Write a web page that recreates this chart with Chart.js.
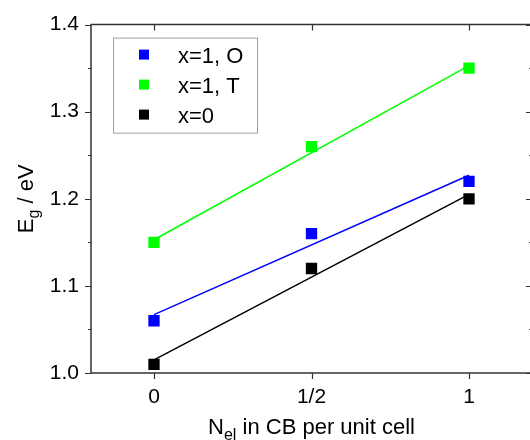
<!DOCTYPE html>
<html>
<head>
<meta charset="utf-8">
<script src="https://cdn.jsdelivr.net/npm/chart.js@4.4.0/dist/chart.umd.min.js"></script>
<style>
  html, body { margin: 0; padding: 0; background: #fff; overflow: hidden; }
  #wrap { position: absolute; left: 0; top: 0; width: 560px; height: 440px; }
</style>
</head>
<body>
<div id="wrap"><canvas id="gapChart" width="560" height="440"></canvas></div>
<script>
// electrons in conduction band per unit cell
const nEl = [0, 0.5, 1];
const xTickValues = [0, 0.5, 1];
const xTickLabels = ["0", "1/2", "1"];

// band gap values (eV)
const gapO = [1.06, 1.16, 1.22];
const gapT = [1.15, 1.26, 1.35];
const gapX0 = [1.01, 1.12, 1.20];

// linear fit end points at N = 0 and N = 1
const fitX = [0, 1];
const fitO = [1.067, 1.227];
const fitT = [1.153, 1.353];
const fitX0 = [1.015, 1.205];

const seriesLabels = ["x=1, O", "x=1, T", "x=0"];
const seriesColors = ["#0000ff", "#00ff00", "#000000"];

const FONT = "'Liberation Sans', Arial, sans-serif";

const toPoints = (xs, ys) => xs.map((x, i) => ({ x: x, y: ys[i] }));

const markerSet = (label, values, color) => ({
  label: label,
  data: toPoints(nEl, values),
  showLine: false,
  pointStyle: "rect",
  pointRadius: 8,
  pointBackgroundColor: color,
  pointBorderColor: color,
  pointBorderWidth: 0,
  isMarker: true
});

const fitSet = (values, color) => ({
  label: "",
  data: toPoints(fitX, values),
  showLine: true,
  borderColor: color,
  borderWidth: 1.5,
  pointRadius: 0,
  fill: false,
  tension: 0
});

// frame with ticks on all four sides (outward left/bottom, inward top/right)
const framePlugin = {
  id: "frame",
  afterDatasetsDraw(chart) {
    const { ctx, chartArea: a, scales } = chart;
    const xs = scales.x, ys = scales.y;
    ctx.save();
    ctx.strokeStyle = "#333";
    ctx.lineWidth = 1.5;
    ctx.beginPath();
    ctx.rect(a.left, a.top, a.right - a.left, a.bottom - a.top);
    ctx.stroke();

    ctx.lineWidth = 1.2;
    ctx.beginPath();
    xTickValues.forEach(v => {
      const px = Math.round(xs.getPixelForValue(v)) + 0.5;
      ctx.moveTo(px, a.bottom); ctx.lineTo(px, a.bottom + 6);
      ctx.moveTo(px, a.top); ctx.lineTo(px, a.top + 6);
    });
    for (let i = 0; i <= 8; i++) {
      const v = 1.0 + i * 0.05;
      const py = Math.round(ys.getPixelForValue(v)) + 0.5;
      const len = i % 2 === 0 ? 6 : 3;
      ctx.moveTo(a.left - len, py); ctx.lineTo(a.left, py);
      ctx.moveTo(a.right - len, py); ctx.lineTo(a.right, py);
    }
    ctx.stroke();
    ctx.restore();
  },
  afterDraw(chart) {
    const { ctx, chartArea: a } = chart;
    ctx.save();

    // legend box
    const lx = a.left + 22, ly = a.top + 13;
    ctx.strokeStyle = "#a0a0a0";
    ctx.lineWidth = 1;
    ctx.strokeRect(lx + 0.5, ly + 0.5, 144, 95);
    ctx.font = "22px " + FONT;
    ctx.textBaseline = "middle";
    ctx.textAlign = "left";
    seriesLabels.forEach((lab, i) => {
      const cy = ly + 17 + i * 30;
      ctx.fillStyle = seriesColors[i];
      ctx.fillRect(lx + 26, cy - 5, 10, 10);
      ctx.fillStyle = "#000";
      ctx.fillText(lab, lx + 65, cy + 2);
    });

    // x axis title with subscript
    const big = "22px " + FONT, small = "16px " + FONT;
    const parts = [["N", big, 0], ["el", small, 6], [" in CB per unit cell", big, 0]];
    let w = 0;
    parts.forEach(p => { ctx.font = p[1]; w += ctx.measureText(p[0]).width; });
    let x = (a.left + a.right) / 2 - w / 2;
    const base = 434;
    ctx.fillStyle = "#000";
    ctx.textBaseline = "alphabetic";
    parts.forEach(p => {
      ctx.font = p[1];
      ctx.fillText(p[0], x, base + p[2]);
      x += ctx.measureText(p[0]).width;
    });

    // y axis title, rotated
    const yParts = [["E", big, 0], ["g", small, 6], [" / eV", big, 0]];
    w = 0;
    yParts.forEach(p => { ctx.font = p[1]; w += ctx.measureText(p[0]).width; });
    ctx.translate(33, (a.top + a.bottom) / 2);
    ctx.rotate(-Math.PI / 2);
    x = -w / 2;
    yParts.forEach(p => {
      ctx.font = p[1];
      ctx.fillText(p[0], x, p[2]);
      x += ctx.measureText(p[0]).width;
    });
    ctx.restore();
  }
};

const gapChart = new Chart(document.getElementById("gapChart"), {
  type: "scatter",
  data: {
    datasets: [
      markerSet(seriesLabels[0], gapO, seriesColors[0]),
      markerSet(seriesLabels[1], gapT, seriesColors[1]),
      markerSet(seriesLabels[2], gapX0, seriesColors[2]),
      fitSet(fitO, seriesColors[0]),
      fitSet(fitT, seriesColors[1]),
      fitSet(fitX0, seriesColors[2])
    ]
  },
  options: {
    responsive: false,
    devicePixelRatio: 1,
    animation: false,
    layout: { padding: { left: 0, top: 20, right: 28, bottom: 0 } },
    plugins: { legend: { display: false }, tooltip: { enabled: false } },
    scales: {
      x: {
        type: "linear",
        min: -0.2,
        max: 1.2,
        afterBuildTicks: scale => { scale.ticks = xTickValues.map(v => ({ value: v })); },
        afterFit: scale => { scale.height = 67; },
        grid: { display: false, drawTicks: false },
        border: { display: false },
        ticks: {
          padding: 12,
          color: "#000",
          font: { family: FONT, size: 21 },
          callback: v => xTickLabels[xTickValues.indexOf(v)]
        }
      },
      y: {
        min: 1.0,
        max: 1.4,
        afterFit: scale => { scale.width = 91; },
        grid: { display: false, drawTicks: false },
        border: { display: false },
        ticks: {
          stepSize: 0.1,
          padding: 12,
          color: "#000",
          font: { family: FONT, size: 21 },
          callback: v => v.toFixed(1)
        }
      }
    }
  },
  plugins: [framePlugin]
});
</script>
</body>
</html>
